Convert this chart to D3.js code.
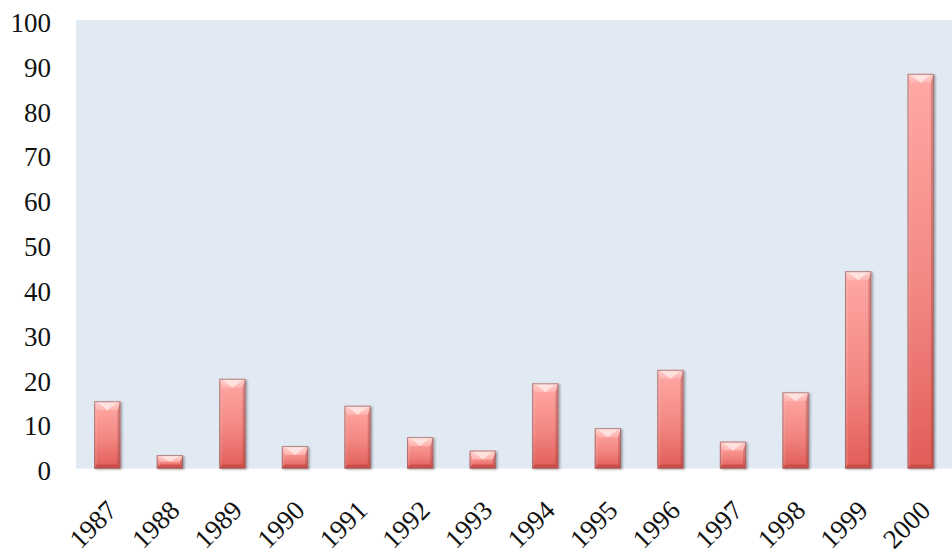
<!DOCTYPE html>
<html>
<head>
<meta charset="utf-8">
<script src="https://cdn.jsdelivr.net/npm/d3@7/dist/d3.min.js"></script>
<style>
  html, body { margin: 0; padding: 0; background: #ffffff; }
  svg { display: block; }
  .tick text { font-family: "Liberation Serif", "Times New Roman", serif; font-size: 27px; fill: #111; }
</style>
</head>
<body>
<svg id="chart" width="952" height="556"></svg>
<script>
// Yearly counts, 1987–2000
const years = ["1987", "1988", "1989", "1990", "1991", "1992", "1993",
               "1994", "1995", "1996", "1997", "1998", "1999", "2000"];
const counts = [15, 3, 20, 5, 14, 7, 4, 19, 9, 22, 6, 17, 44, 88];
const yTicks = [0, 10, 20, 30, 40, 50, 60, 70, 80, 90, 100];

const plot = { left: 76, right: 952, top: 20, bottom: 468.5 };

const svg = d3.select("#chart");

const x = d3.scaleBand().domain(years).range([plot.left, plot.right]).padding(0);
const y = d3.scaleLinear().domain([0, 100]).range([plot.bottom, plot.top]);

const defs = svg.append("defs");

// body shading: light pink at the top, deeper red at the foot
const body = defs.append("linearGradient").attr("id", "body")
  .attr("x1", 0).attr("y1", 0).attr("x2", 0).attr("y2", 1);
body.append("stop").attr("offset", "0%").attr("stop-color", "#ffa9a5");
body.append("stop").attr("offset", "55%").attr("stop-color", "#f38782");
body.append("stop").attr("offset", "100%").attr("stop-color", "#e15d58");

const topBevel = defs.append("linearGradient").attr("id", "topBevel")
  .attr("x1", 0).attr("y1", 0).attr("x2", 0).attr("y2", 1);
topBevel.append("stop").attr("offset", "0%").attr("stop-color", "#ffd2cf");
topBevel.append("stop").attr("offset", "100%").attr("stop-color", "#ffb3af");

const shadow = defs.append("filter").attr("id", "shadow")
  .attr("x", "-30%").attr("y", "-10%").attr("width", "160%").attr("height", "130%");
shadow.append("feDropShadow").attr("dx", 1.5).attr("dy", 1).attr("stdDeviation", 1.2)
  .attr("flood-color", "#000").attr("flood-opacity", 0.35);

// plot area background
svg.append("rect")
  .attr("x", plot.left).attr("y", plot.top)
  .attr("width", plot.right - plot.left).attr("height", plot.bottom - plot.top)
  .attr("fill", "#e1e9f3");

// y axis labels only
const yAxis = svg.append("g")
  .attr("transform", `translate(${plot.left},0)`)
  .call(d3.axisLeft(y).tickValues(yTicks).tickSize(0).tickPadding(25).tickFormat(d3.format("d")));
yAxis.select(".domain").remove();
yAxis.selectAll(".tick text").attr("dy", "0.42em");

// x axis labels, rotated
const xAxis = svg.append("g")
  .attr("transform", `translate(0,${plot.bottom})`)
  .call(d3.axisBottom(x).tickSize(0).tickPadding(0));
xAxis.select(".domain").remove();
xAxis.selectAll(".tick text")
  .attr("text-anchor", "end")
  .attr("transform", "translate(-2,30) rotate(-45)")
  .attr("dy", "0.7em")
  .attr("dx", "0");

// bevelled bars
const barW = x.bandwidth() * 0.42;
svg.append("g").selectAll("g.bar")
  .data(years.map((yr, i) => ({ yr, v: counts[i] })))
  .join("g").attr("class", "bar")
  .each(function(d) {
    const g = d3.select(this);
    const x0 = x(d.yr) + (x.bandwidth() - barW) / 2;
    const x1 = x0 + barW;
    const y0 = y(d.v);
    const y1 = y(0);
    const h = y1 - y0;
    const bt = Math.min(9, h / 2);     // top bevel depth
    const bs = Math.min(3, h / 3);     // side bevel width
    const bb = Math.min(4, h / 3);     // bottom bevel depth

    g.append("rect")
      .attr("x", x0).attr("y", y0).attr("width", barW).attr("height", h)
      .attr("fill", "url(#body)").attr("filter", "url(#shadow)");

    // top facet
    g.append("path")
      .attr("d", `M${x0},${y0}L${x1},${y0}L${x1 - bs},${y0 + bt}L${x0 + bs},${y0 + bt}Z`)
      .attr("fill", "url(#topBevel)");
    // V highlight on top facet
    g.append("path")
      .attr("d", `M${x0 + 3},${y0 + 1}L${x1 - 3},${y0 + 1}L${(x0 + x1) / 2},${y0 + bt}Z`)
      .attr("fill", "#ffe6e4").attr("opacity", 0.85);
    // left facet
    g.append("path")
      .attr("d", `M${x0},${y0}L${x0 + bs},${y0 + bt}L${x0 + bs},${y1 - bb}L${x0},${y1}Z`)
      .attr("fill", "#ffffff").attr("opacity", 0.1);
    // right facet
    g.append("path")
      .attr("d", `M${x1},${y0}L${x1 - bs},${y0 + bt}L${x1 - bs},${y1 - bb}L${x1},${y1}Z`)
      .attr("fill", "#8a2a26").attr("opacity", 0.28);
    // bottom facet
    g.append("path")
      .attr("d", `M${x0},${y1}L${x0 + bs},${y1 - bb}L${x1 - bs},${y1 - bb}L${x1},${y1}Z`)
      .attr("fill", "#b83a36").attr("opacity", 0.55);

    // outline
    g.append("rect")
      .attr("x", x0 + 0.5).attr("y", y0 + 0.5).attr("width", barW - 1).attr("height", h - 1)
      .attr("fill", "none").attr("stroke", "#8e6a6a").attr("stroke-opacity", 0.7).attr("stroke-width", 1);
  });
</script>
</body>
</html>
